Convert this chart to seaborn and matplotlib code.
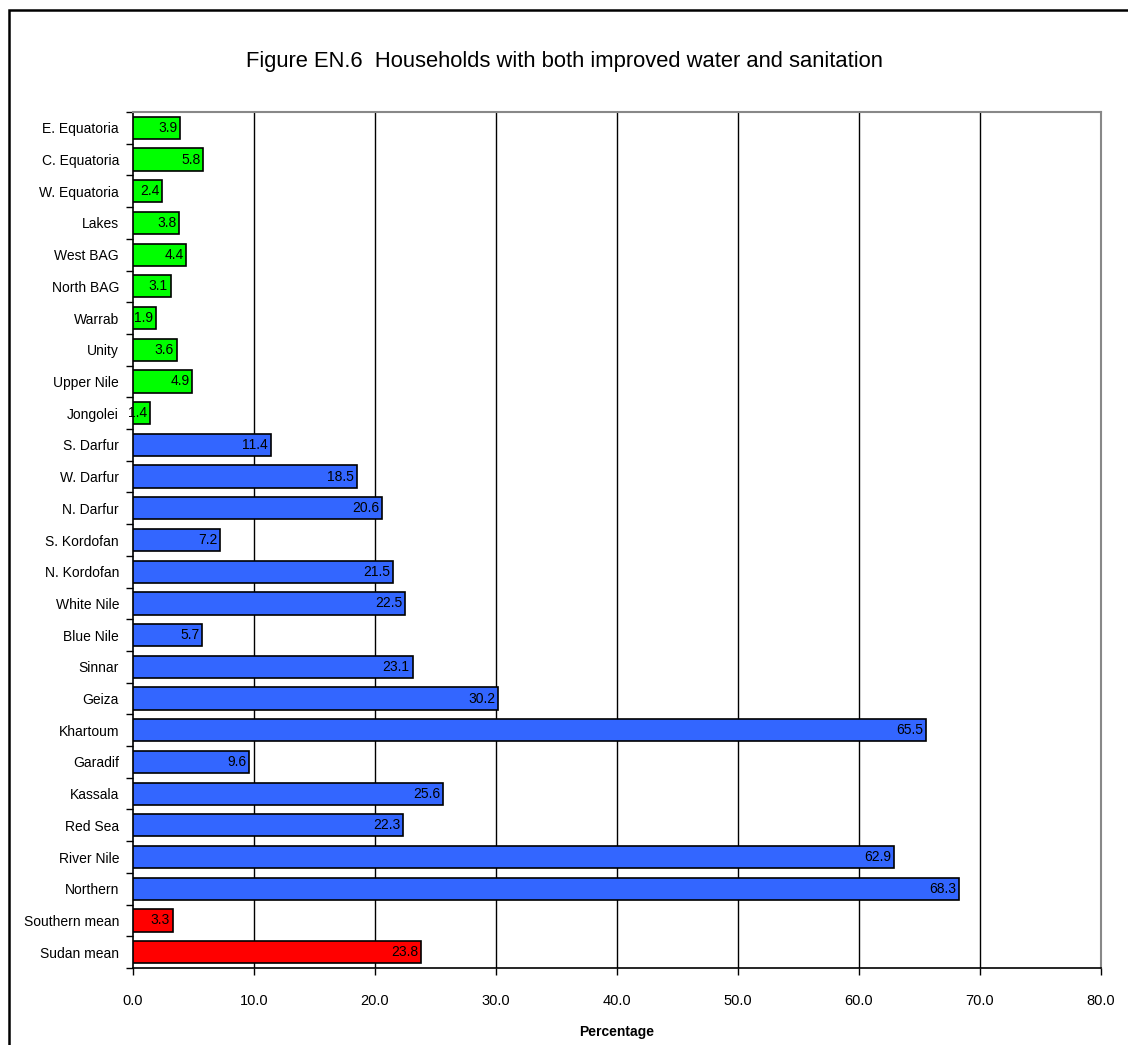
import numpy as np
import pandas as pd
import seaborn as sns
import matplotlib.pyplot as plt
from matplotlib.patches import Rectangle

# data, top to bottom
regions = ['E. Equatoria', 'C. Equatoria', 'W. Equatoria', 'Lakes', 'West BAG',
           'North BAG', 'Warrab', 'Unity', 'Upper Nile', 'Jongolei',
           'S. Darfur', 'W. Darfur', 'N. Darfur', 'S. Kordofan', 'N. Kordofan',
           'White Nile', 'Blue Nile', 'Sinnar', 'Geiza', 'Khartoum', 'Garadif',
           'Kassala', 'Red Sea', 'River Nile', 'Northern',
           'Southern mean', 'Sudan mean']
values = [3.9, 5.8, 2.4, 3.8, 4.4, 3.1, 1.9, 3.6, 4.9, 1.4,
          11.4, 18.5, 20.6, 7.2, 21.5, 22.5, 5.7, 23.1, 30.2, 65.5, 9.6,
          25.6, 22.3, 62.9, 68.3,
          3.3, 23.8]
groups = ['South'] * 10 + ['North'] * 15 + ['Mean'] * 2
group_colors = {'South': '#00FF00', 'North': '#3366FF', 'Mean': '#FF0000'}

df = pd.DataFrame({'region': regions, 'value': values, 'group': groups})

sns.set_style('white')
plt.rcParams['font.family'] = ['Liberation Sans', 'DejaVu Sans']
plt.rcParams['text.color'] = 'black'
plt.rcParams['xtick.color'] = 'black'
plt.rcParams['ytick.color'] = 'black'
plt.rcParams['axes.labelcolor'] = 'black'

fig = plt.figure(figsize=(11.28, 10.45), dpi=100)
ax = fig.add_axes([133 / 1128, 1 - 968 / 1045, (1101 - 133) / 1128, (968 - 112) / 1045])

sns.barplot(data=df, x='value', y='region', hue='group', palette=group_colors,
            dodge=False, orient='h', width=0.7, saturation=1, edgecolor='black',
            linewidth=1.2, legend=False, ax=ax, zorder=3)

for cont in ax.containers:
    labels = ax.bar_label(cont, fmt='%.1f', padding=-2, fontsize=10, color='black')
    for t in labels:
        t.set_ha('right')

ax.set_xlim(0, 80)
ax.set_ylim(len(regions) - 0.5, -0.5)
ax.set_xticks(np.arange(0, 81, 10))
ax.set_xticklabels([f'{v:.1f}' for v in np.arange(0, 81, 10)], fontsize=10.5)
ax.tick_params(axis='x', direction='out', length=5, width=1, pad=14, bottom=True)

ax.set_yticks(np.arange(len(regions)))
ax.set_yticklabels(regions, fontsize=10)
ax.tick_params(axis='y', which='major', length=0, pad=10)
ax.set_yticks(np.arange(-0.5, len(regions)), minor=True)
ax.tick_params(axis='y', which='minor', direction='out', length=5, width=1, left=True)

for xv in range(10, 80, 10):
    ax.axvline(xv, color='black', lw=1, zorder=1)

for side in ['top', 'right']:
    ax.spines[side].set_color('#888888')
    ax.spines[side].set_linewidth(1.5)
for side in ['left', 'bottom']:
    ax.spines[side].set_color('black')
    ax.spines[side].set_linewidth(1.2)

ax.set_ylabel('')
ax.set_xlabel('Percentage', fontsize=10, fontweight='bold', labelpad=12)

fig.text(0.5, 1 - 61 / 1045, 'Figure EN.6  Households with both improved water and sanitation',
         ha='center', va='center', fontsize=15.8)

# outer frame
fig.patches.append(Rectangle((9 / 1128, -0.05), 1.1, 1 - 10 / 1045 + 0.05,
                             transform=fig.transFigure, fill=False,
                             edgecolor='black', linewidth=1.8))

fig.savefig('out.png', dpi=100)
